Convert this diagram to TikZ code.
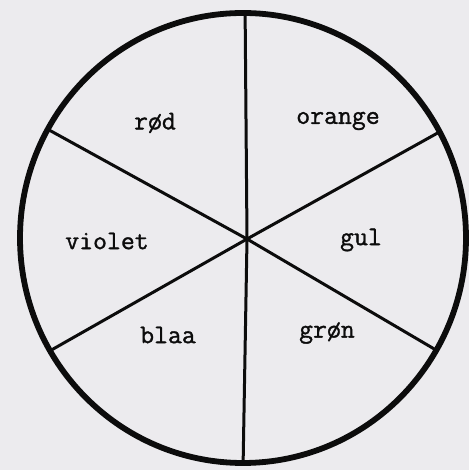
\documentclass[tikz,border=0pt]{standalone}
\usepackage{fontspec}
\newfontfamily\typw{Latin Modern Mono}[AutoFakeBold=1.2]
\definecolor{paper}{RGB}{236,235,238}
\definecolor{ink}{RGB}{12,12,12}
\begin{document}
\begin{tikzpicture}[x=1pt,y=1pt,
  rim/.style={draw=ink,line width=5.8pt},
  spoke/.style={draw=ink,line width=3pt},
  lbl/.style={font=\fontsize{27}{27}\selectfont\typw\bfseries,text=ink,inner sep=0pt,anchor=center}]
\fill[paper] (0,0) rectangle (469,470);
\useasboundingbox (0,0) rectangle (469,470);
\coordinate (c) at (247,231);
\coordinate (t) at (245,470);
\coordinate (b) at (243,0);
\coordinate (ul) at (20,356);
\coordinate (ur) at (470,355);
\coordinate (ll) at (25,105);
\coordinate (lr) at (470,100);
\begin{scope}
\clip (243,232) ellipse [x radius=223,y radius=225];
\draw[spoke] (c) -- (t);
\draw[spoke] (c) -- (b);
\draw[spoke] (c) -- (ul);
\draw[spoke] (c) -- (ur);
\draw[spoke] (c) -- (ll);
\draw[spoke] (c) -- (lr);
\end{scope}
\draw[rim] (243,232) ellipse [x radius=223,y radius=225];
\node[lbl] (rod) at (155,347) {rød};
\node[lbl] (orange) at (338,349) {orange};
\node[lbl] (violet) at (107,229) {violet};
\node[lbl] (gul) at (361,230) {gul};
\node[lbl] (blaa) at (168,135) {blaa};
\node[lbl] (gron) at (327,137) {grøn};
\end{tikzpicture}
\end{document}
